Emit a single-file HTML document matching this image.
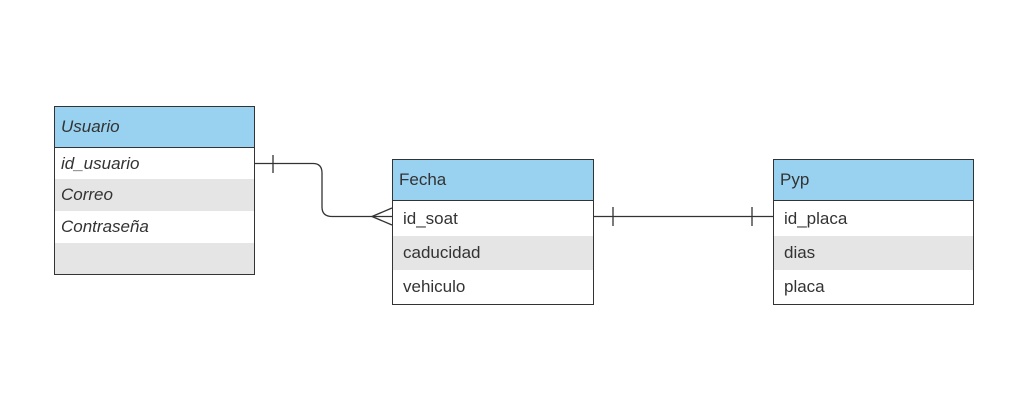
<!DOCTYPE html>
<html><head><meta charset="utf-8"><style>
body{margin:0;width:1025px;height:412px;background:#fff;position:relative;overflow:hidden;font-family:"Liberation Sans",sans-serif;color:#333;}
.t{position:absolute;border:1px solid #333;box-sizing:border-box;background:#fff;}
.h{background:#99d1f0;border-bottom:1px solid #333;box-sizing:border-box;font-size:17px;padding-left:6px;display:flex;align-items:center;}
.r{box-sizing:border-box;font-size:17px;padding-left:10px;display:flex;align-items:center;}
.g{background:#e5e5e5;}
.i{font-style:italic;}
.i .r,.i .h{padding-left:6px}
</style></head><body>
<div class="t i" style="left:54px;top:106px;width:201px;height:169px;">
<div class="h" style="height:41px;">Usuario</div>
<div class="r" style="height:31px;">id_usuario</div>
<div class="r g" style="height:32px;">Correo</div>
<div class="r" style="height:32px;">Contraseña</div>
<div class="r g" style="height:31px;"></div>
</div>
<div class="t" style="left:392px;top:159px;width:202px;height:146px;">
<div class="h" style="height:41px;">Fecha</div>
<div class="r" style="height:35px;">id_soat</div>
<div class="r g" style="height:34px;">caducidad</div>
<div class="r" style="height:34px;">vehiculo</div>
</div>
<div class="t" style="left:773px;top:159px;width:201px;height:146px;">
<div class="h" style="height:41px;">Pyp</div>
<div class="r" style="height:35px;">id_placa</div>
<div class="r g" style="height:34px;">dias</div>
<div class="r" style="height:34px;">placa</div>
</div>
<svg width="1025" height="412" style="position:absolute;left:0;top:0" fill="none" stroke="#333" stroke-width="1.3">
<path d="M255 163.5 H313 Q322 163.5 322 173 V207 Q322 216.5 332 216.5 H392"/>
<path d="M273 155 V173"/>
<path d="M372 216.5 L392 208 M372 216.5 L392 225"/>
<path d="M594 216.5 H773"/>
<path d="M613 207 V226 M752 207 V226"/>
</svg>
</body></html>
